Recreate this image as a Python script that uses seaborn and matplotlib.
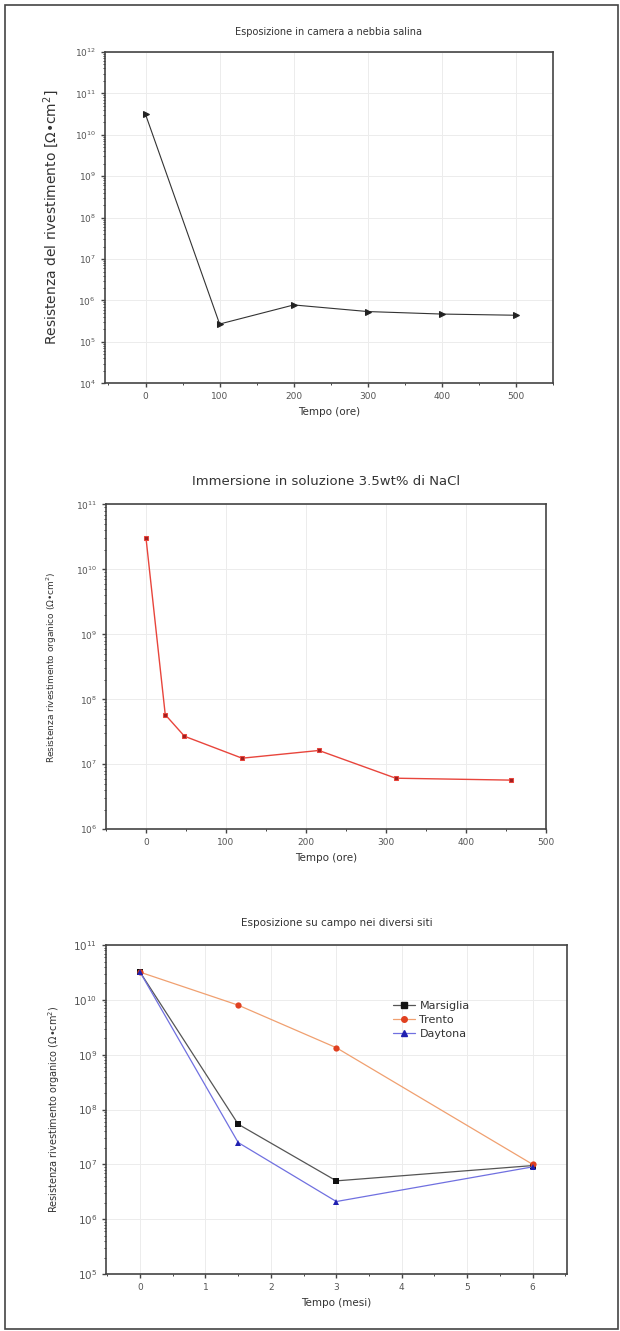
import numpy as np
import pandas as pd
import matplotlib
matplotlib.use("Agg")
import matplotlib.pyplot as plt
import matplotlib.ticker as mticker
from matplotlib.patches import Rectangle
import seaborn as sns

# ---------------- data ----------------
t_salt = [0, 100, 200, 300, 400, 500]
r_salt = [3.1e10, 2.7e5, 7.8e5, 5.4e5, 4.7e5, 4.4e5]

t_imm = [0, 24, 48, 120, 216, 312, 456]
r_imm = [3.0e10, 5.8e7, 2.7e7, 1.24e7, 1.63e7, 6.1e6, 5.7e6]

t_field = [0, 1.5, 3, 6]
sites = ["Marsiglia", "Trento", "Daytona"]
r_marsiglia = [3.2e10, 5.4e7, 5.0e6, 9.5e6]
r_trento = [3.2e10, 8.0e9, 1.34e9, 1.0e7]
r_daytona = [3.2e10, 2.5e7, 2.1e6, 9.0e6]

sns.set_style("whitegrid")
plt.rcParams['font.family'] = ['DejaVu Sans']

fig = plt.figure(figsize=(6.2, 13.31), dpi=100)

TICKC = "#555555"
LABC = "#333333"


def style_axes(ax, xmin, xmax, ymin, ymax, xmaj, xminor):
    ax.set_yscale("log")
    ax.set_xlim(xmin, xmax)
    ax.set_ylim(ymin, ymax)
    ax.xaxis.set_major_locator(mticker.MultipleLocator(xmaj))
    ax.xaxis.set_minor_locator(mticker.MultipleLocator(xminor))
    ax.yaxis.set_major_locator(mticker.LogLocator(base=10, numticks=20))
    ax.yaxis.set_minor_locator(mticker.LogLocator(base=10, subs=np.arange(2, 10), numticks=20))
    ax.yaxis.set_minor_formatter(mticker.NullFormatter())
    ax.grid(True, which="major", color="#ececec", linewidth=0.7)
    ax.grid(False, which="minor")
    for s in ax.spines.values():
        s.set_color("#444444")
        s.set_linewidth(1.2)
    ax.tick_params(axis="both", which="major", direction="out", length=3, width=1,
                   color="#444444", labelsize=6.5, labelcolor=TICKC, left=True, bottom=True)
    ax.tick_params(axis="both", which="minor", direction="out", length=1.5, width=0.7,
                   color="#444444", left=True, bottom=True)


# ---------------- panel 1 ----------------
ax1 = fig.add_axes([0.169, 0.712, 0.723, 0.249])
sns.lineplot(x=t_salt, y=r_salt, ax=ax1, color="#333333", linewidth=0.8,
             marker=">", markersize=5, markerfacecolor="#222222", markeredgecolor="#222222")
style_axes(ax1, -55, 550, 1e4, 1e12, 100, 50)
ax1.set_title("Esposizione in camera a nebbia salina", fontsize=7, color=LABC, pad=12)
ax1.set_xlabel("Tempo (ore)", fontsize=7.5, color=LABC)
ax1.set_ylabel("Resistenza del rivestimento [Ω•cm$^2$]", fontsize=10, color=LABC, labelpad=10)

# ---------------- panel 2 ----------------
ax2 = fig.add_axes([0.171, 0.377, 0.710, 0.244])
sns.lineplot(x=t_imm, y=r_imm, ax=ax2, color="#e8453c", linewidth=1.0,
             marker="s", markersize=3.5, markerfacecolor="#a02020", markeredgecolor="#e8453c")
style_axes(ax2, -50, 500, 1e6, 1e11, 100, 50)
ax2.set_title("Immersione in soluzione 3.5wt% di NaCl", fontsize=9.5, color=LABC, pad=14)
ax2.set_xlabel("Tempo (ore)", fontsize=7.5, color=LABC)
ax2.set_ylabel("Resistenza rivestimento organico (Ω•cm$^2$)", fontsize=6.5, color=LABC, labelpad=12)

# ---------------- panel 3 ----------------
ax3 = fig.add_axes([0.171, 0.0428, 0.744, 0.2472])
df = pd.DataFrame({
    "Tempo": t_field * 3,
    "R": r_marsiglia + r_trento + r_daytona,
    "Sito": [sites[0]] * 4 + [sites[1]] * 4 + [sites[2]] * 4,
})
palette = {"Marsiglia": "#555555", "Trento": "#f0a070", "Daytona": "#7070e0"}
markers = {"Marsiglia": "s", "Trento": "o", "Daytona": "^"}
mcolors = {"Marsiglia": "#111111", "Trento": "#e04020", "Daytona": "#2020b0"}
sns.lineplot(data=df, x="Tempo", y="R", hue="Sito", style="Sito", markers=markers,
             dashes=False, palette=palette, ax=ax3, linewidth=0.9, markersize=4.5,
             markeredgewidth=0, legend=False)
# recolor markers
for line, s in zip(ax3.get_lines(), sites):
    line.set_markerfacecolor(mcolors[s])
    line.set_markeredgecolor(mcolors[s])
style_axes(ax3, -0.52, 6.53, 1e5, 1e11, 1, 0.5)
ax3.set_title("Esposizione su campo nei diversi siti", fontsize=7.5, color=LABC, pad=14)
ax3.set_xlabel("Tempo (mesi)", fontsize=7.5, color=LABC)
ax3.set_ylabel("Resistenza rivestimento organico (Ω•cm$^2$)", fontsize=7, color=LABC, labelpad=8)
ax3.tick_params(axis="y", which="major", labelsize=7.5)
handles = []
for s in sites:
    h, = ax3.plot([], [], color=palette[s], linewidth=0.9, marker=markers[s],
                  markersize=4, markerfacecolor=mcolors[s], markeredgecolor=mcolors[s])
    handles.append(h)
ax3.legend(handles, sites, loc="upper left", bbox_to_anchor=(0.6, 0.86), frameon=False,
           fontsize=8, handlelength=2.0, handletextpad=0.4, labelspacing=0.35,
           labelcolor=LABC)

# outer frame
fig.patches.append(Rectangle((5 / 620, 2 / 1331), 613 / 620, 1324 / 1331,
                             transform=fig.transFigure, fill=False,
                             edgecolor="#444444", linewidth=1.2))

fig.savefig("out.png", dpi=100)
